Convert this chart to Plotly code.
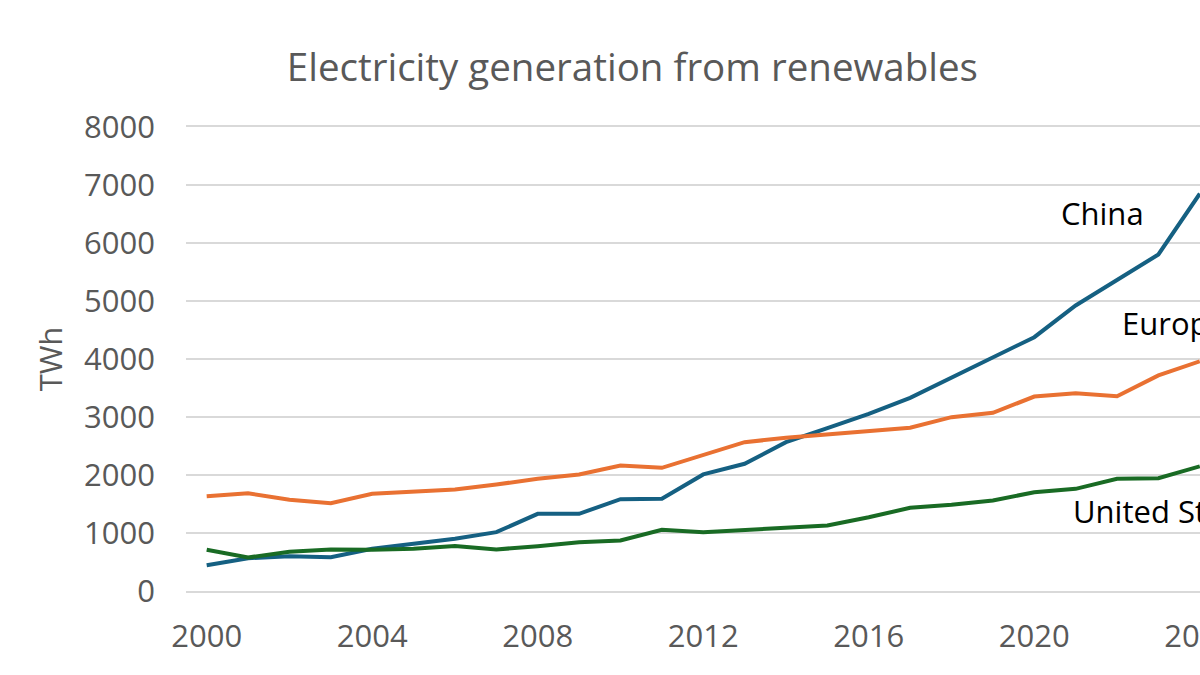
import plotly.graph_objects as go

years = list(range(2000, 2025))
china = [445, 566, 600, 583, 727, 813, 900, 1014, 1331, 1331, 1583, 1589, 2010,
         2193, 2566, 2807, 3055, 3331, 3680, 4031, 4376, 4922, 5353, 5802, 6850]
europe = [1634, 1686, 1572, 1514, 1676, 1721, 1750, 1836, 1934, 2009, 2164, 2124, 2353,
          2566, 2641, 2698, 2767, 2814, 2997, 3072, 3353, 3411, 3359, 3716, 3960]
united_states = [710, 578, 676, 716, 710, 727, 775, 716, 773, 841, 871, 1055, 1014,
                 1055, 1100, 1129, 1272, 1434, 1486, 1560, 1704, 1761, 1934, 1945, 2150]

series = [("China", china, "#156082"),
          ("Europe", europe, "#E97132"),
          ("United States", united_states, "#196B24")]

# label anchor positions (data coords)
label_pos = {"China": (2020.59, 6509), "Europe": (2022.07, 4629), "United States": (2020.88, 1388)}

x_ticks = list(range(2000, 2025, 4))
y_ticks = list(range(0, 8001, 1000))

FONT = "Open Sans"
GREY = "#595959"
GRID = "#d9d9d9"

fig = go.Figure()
for name, vals, color in series:
    fig.add_trace(go.Scatter(x=years, y=vals, mode="lines", name=name,
                             line=dict(color=color, width=4, shape="linear"),
                             showlegend=False, hoverinfo="x+y+name"))

for name, (lx, ly) in label_pos.items():
    fig.add_annotation(x=lx, y=ly, xref="x", yref="y", text=name, showarrow=False,
                       xanchor="left", yanchor="middle",
                       font=dict(family=FONT, size=31, color="#000000"))

fig.update_layout(
    width=1200, height=675,
    margin=dict(l=186, r=0, t=127, b=84, autoexpand=False),
    paper_bgcolor="white", plot_bgcolor="white",
    title=dict(text="Electricity generation from renewables", x=0.527, xanchor="center",
               y=0.9, yref="container", yanchor="middle",
               font=dict(family=FONT, size=38.5, color=GREY)),
    font=dict(family=FONT, color=GREY),
)

fig.update_xaxes(range=[1999.5, 2024.005], tickmode="array", tickvals=x_ticks,
                 ticktext=[str(v) for v in x_ticks], showgrid=False, zeroline=False,
                 showline=True, mirror=True, linecolor=GRID, linewidth=1.5,
                 ticks="", tickfont=dict(family=FONT, size=31, color=GREY),
                 ticklabelstandoff=17, ticklabeloverflow="allow", automargin=False)
fig.update_yaxes(range=[0, 8000], tickmode="array", tickvals=y_ticks,
                 showgrid=True, gridcolor=GRID, gridwidth=1.5, zeroline=False,
                 showline=False, ticks="", tickfont=dict(family=FONT, size=31, color=GREY),
                 ticklabelstandoff=30, automargin=False,
                 title=dict(text="TWh", font=dict(family=FONT, size=31, color=GREY), standoff=12))

fig.write_html("out.html")
